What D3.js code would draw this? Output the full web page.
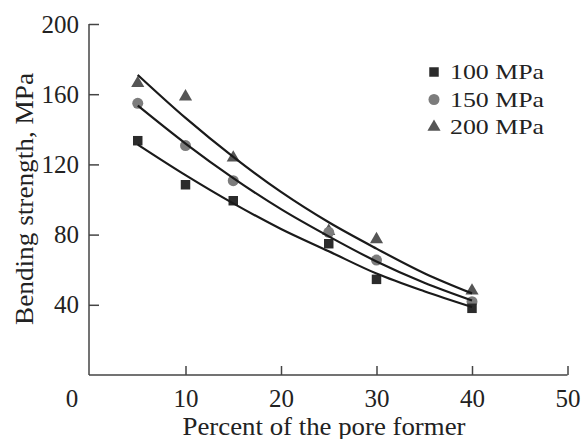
<!DOCTYPE html>
<meta charset="utf-8">
<html lang="en"></html>

<!-- load d3.js -->
<script src="https://d3js.org/d3.v7.min.js"></script>

<style>
    body { margin: 0; background: #fff; }
    svg text { font-family: "Liberation Serif", "Times New Roman", serif !important; fill: #222; }
</style>

<div id="chart"></div>

<script>

    // measured points, percent of pore former vs bending strength
    const percent = [5, 10, 15, 25, 30, 40];
    const mpa100 = [133.5, 108.4, 99.3, 74.8, 54.5, 38.0];
    const mpa150 = [154.8, 130.7, 110.7, 81.3, 65.5, 41.8];
    const mpa200 = [166.2, 158.6, 123.8, 82.0, 77.3, 48.0];

    // trend curves
    const trendX = [5, 10, 15, 20, 25, 30, 35, 40];
    const trend100 = [131.3, 113.9, 97.8, 83.2, 70.5, 57.8, 47.7, 38.7];
    const trend150 = [153.5, 131.9, 112.2, 94.5, 79.0, 64.7, 52.6, 42.5];
    const trend200 = [171.0, 146.5, 124.3, 104.3, 87.0, 72.0, 58.0, 46.5];

    const seriesNames = ["100 MPa", "150 MPa", "200 MPa"];
    const xTicks = [10, 20, 30, 40, 50];
    const yTicks = [40, 80, 120, 160, 200];

    const width = 581, height = 439;
    const axisColor = "#444";
    const serif = "'Liberation Serif', 'Times New Roman', serif";

    const svg = d3.select("#chart")
        .append("svg")
            .attr("width", width)
            .attr("height", height);

    const x = d3.scaleLinear().domain([0, 50]).range([90, 567.5]);
    const y = d3.scaleLinear().domain([0, 200]).range([375, 24]);

    // X axis (ticks point inward)
    const gx = svg.append("g")
        .attr("transform", "translate(0," + y(0) + ")")
        .call(d3.axisBottom(x).tickValues(xTicks).tickSizeInner(-9).tickSizeOuter(0).tickPadding(14));
    gx.attr("font-family", null).attr("font-size", null);
    gx.select(".domain").attr("d", "M" + (x(0) - 1) + ",0H" + x(50)).attr("stroke", axisColor).attr("stroke-width", 1.5);
    gx.selectAll(".tick line").attr("stroke", axisColor).attr("stroke-width", 1.5);
    gx.selectAll(".tick text")
        .style("font-size", "25px")
        .style("font-family", serif)
        .attr("fill", "#222");

    // origin label sits left of the corner
    svg.append("text")
        .text("0")
        .attr("x", 72)
        .attr("y", 407)
        .attr("text-anchor", "middle")
        .style("font-size", "25px");

    // Y axis
    const gy = svg.append("g")
        .attr("transform", "translate(" + (x(0) - 1) + ",0)")
        .call(d3.axisLeft(y).tickValues(yTicks).tickSizeInner(-10).tickSizeOuter(0).tickPadding(10));
    gy.attr("font-family", null).attr("font-size", null);
    gy.select(".domain").attr("d", "M0," + y(200) + "V" + y(0)).attr("stroke", axisColor).attr("stroke-width", 1.5);
    gy.selectAll(".tick line").attr("stroke", axisColor).attr("stroke-width", 1.5);
    gy.selectAll(".tick text")
        .style("font-size", "25px")
        .style("font-family", serif)
        .attr("fill", "#222");

    // axis titles
    svg.append("text")
        .text("Percent of the pore former")
        .attr("x", 324)
        .attr("y", 435)
        .attr("text-anchor", "middle")
        .attr("textLength", 283)
        .attr("lengthAdjust", "spacingAndGlyphs")
        .style("font-size", "25px");

    svg.append("text")
        .text("Bending strength, MPa")
        .attr("transform", "translate(33,199)rotate(-90)")
        .attr("text-anchor", "middle")
        .attr("textLength", 252)
        .attr("lengthAdjust", "spacingAndGlyphs")
        .style("font-size", "26px");

    // markers
    const styles = [
        {vals: mpa100, trend: trend100, type: d3.symbolSquare, size: 90, fill: "#2b2b2b"},
        {vals: mpa150, trend: trend150, type: d3.symbolCircle, size: 95, fill: "#7c7c7c"},
        {vals: mpa200, trend: trend200, type: d3.symbolTriangle, size: 75, fill: "#555"}
    ];

    const drawOrder = [2, 1, 0];
    drawOrder.forEach(function(i) {
        const s = styles[i];
        svg.append("g").selectAll("path")
            .data(percent.map(function(p, j) { return [p, s.vals[j]]; }))
            .enter()
            .append("path")
                .attr("d", d3.symbol().type(s.type).size(s.size))
                .attr("transform", function(d) { return "translate(" + x(d[0]) + "," + y(d[1]) + ")"; })
                .attr("fill", s.fill);
    });

    // trend curves on top of markers
    const line = d3.line()
        .x(function(d) { return x(d[0]); })
        .y(function(d) { return y(d[1]); })
        .curve(d3.curveMonotoneX);

    styles.forEach(function(s) {
        svg.append("path")
            .datum(trendX.map(function(t, j) { return [t, s.trend[j]]; }))
            .attr("d", line)
            .attr("fill", "none")
            .attr("stroke", "#1a1a1a")
            .attr("stroke-width", 2.2);
    });

    // legend
    const legend = svg.append("g");
    seriesNames.forEach(function(name, i) {
        const s = styles[i];
        const cy = 72 + i * 27.5;
        legend.append("path")
            .attr("d", d3.symbol().type(s.type).size(s.size))
            .attr("transform", "translate(434," + cy + ")")
            .attr("fill", s.fill);
        legend.append("text")
            .text(name)
            .attr("x", 450)
            .attr("y", cy + 7)
            .attr("textLength", 94)
            .attr("lengthAdjust", "spacingAndGlyphs")
            .style("font-size", "22px");
    });
</script>
